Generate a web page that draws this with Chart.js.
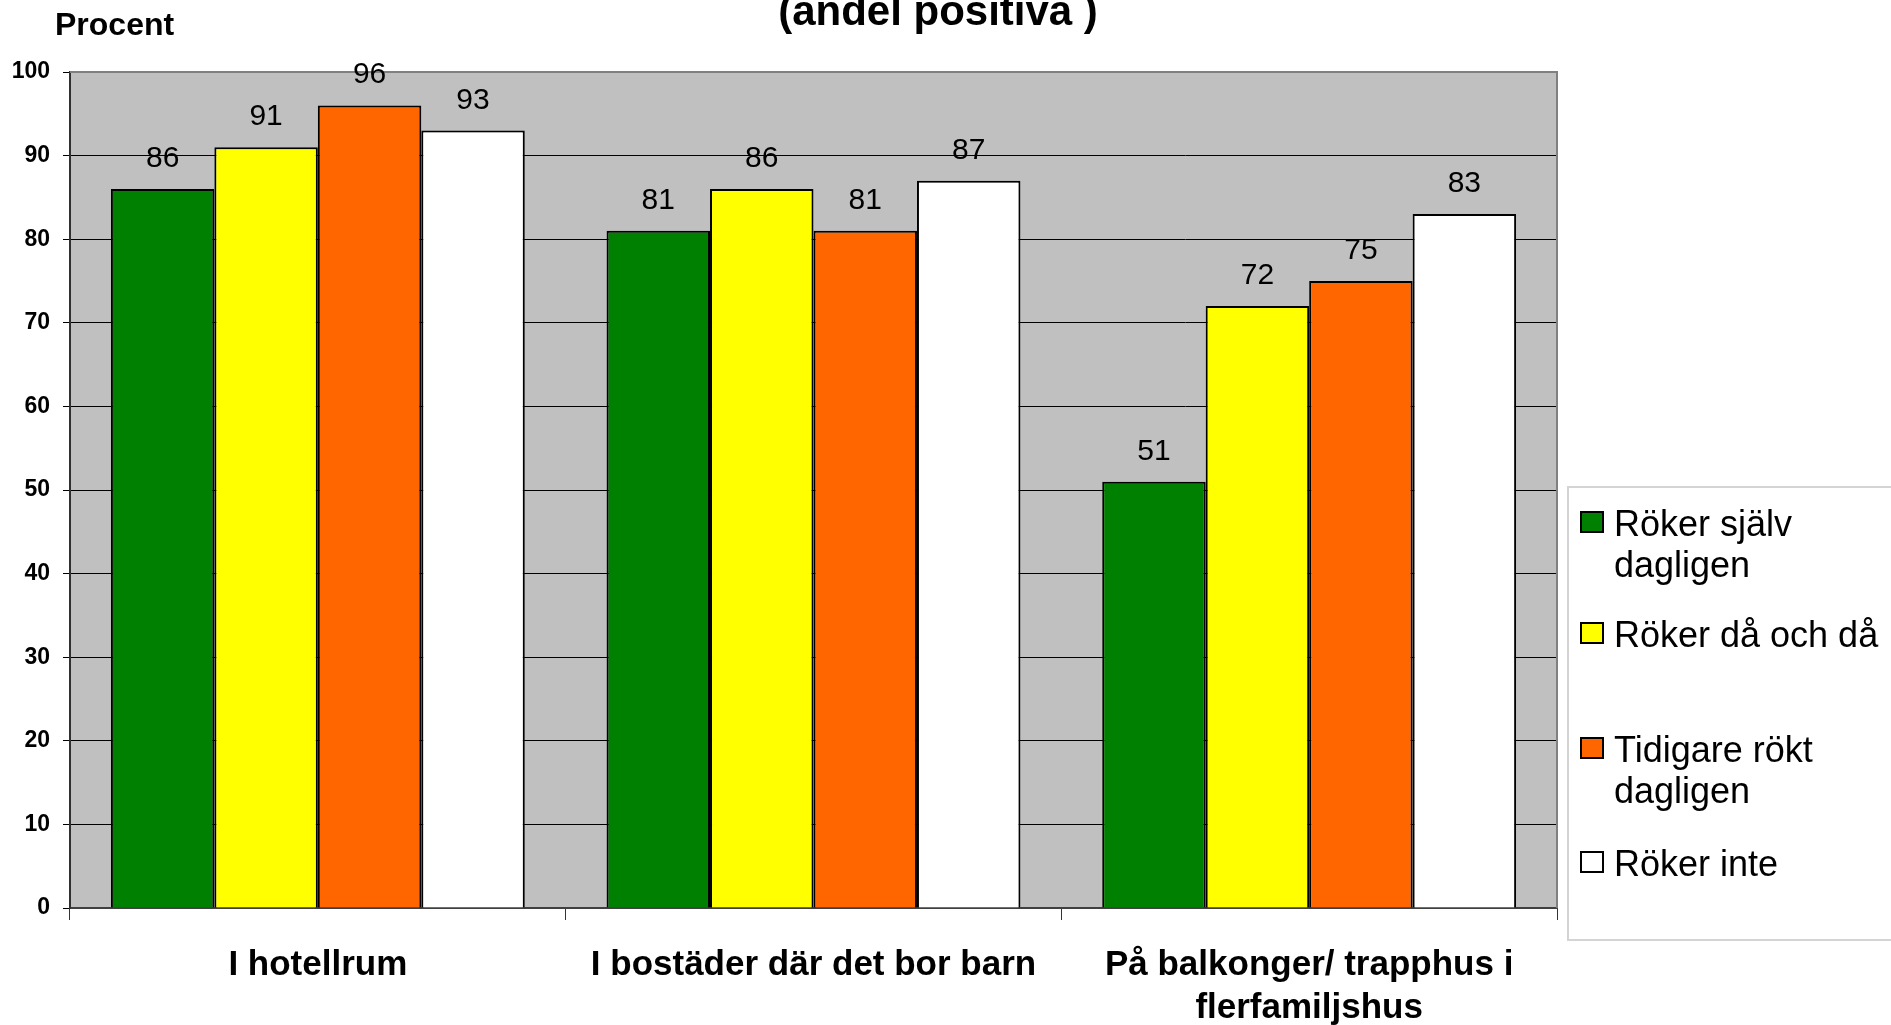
<!DOCTYPE html>
<html>
<head>
<meta charset="utf-8">
<script src="https://cdn.jsdelivr.net/npm/chart.js@4.4.0/dist/chart.umd.min.js"></script>
<style>
  body { margin: 0; background: #fff; overflow: hidden; font-family: "Liberation Sans", Arial, sans-serif; }
  #wrap { position: relative; width: 1891px; height: 1025px; }
  #legend { position: absolute; left: 1567px; top: 486px; width: 340px; height: 451px; border: 2px solid #d4d4d4; }
  .item { position: absolute; left: 0; }
  .sw { position: absolute; left: 11px; width: 20px; height: 18px; border: 2px solid #000; }
  .txt { position: absolute; left: 45px; width: 290px; font-size: 36px; line-height: 41px; color: #000; }
</style>
</head>
<body>
<div id="wrap">
  <canvas id="chart" width="1891" height="1025"></canvas>
  <div id="legend"></div>
</div>
<script>
const categories = ["I hotellrum", "I bostäder där det bor barn", ["På balkonger/ trapphus i", "flerfamiljshus"]];
const seriesNames = ["Röker själv dagligen", "Röker då och då", "Tidigare rökt dagligen", "Röker inte"];
const seriesColors = ["#008000", "#FFFF00", "#FF6600", "#FFFFFF"];
const rokerSjalv = [86, 81, 51];
const rokerDaOchDa = [91, 86, 72];
const tidigareRokt = [96, 81, 75];
const rokerInte = [93, 87, 83];
const yTicks = [0, 10, 20, 30, 40, 50, 60, 70, 80, 90, 100];
const titleText = "(andel positiva )";
const yAxisLabel = "Procent";

const values = [rokerSjalv, rokerDaOchDa, tidigareRokt, rokerInte];

// background, borders, labels
const decor = {
  id: "decor",
  beforeDraw(chart) {
    const { ctx, chartArea: a } = chart;
    ctx.save();
    ctx.fillStyle = "#C0C0C0";
    ctx.fillRect(a.left, a.top, a.right - a.left, a.bottom - a.top);
    ctx.restore();
  },
  afterDatasetsDraw(chart) {
    const { ctx, chartArea: a } = chart;
    ctx.save();
    // plot border top / right
    ctx.strokeStyle = "#808080";
    ctx.lineWidth = 2;
    ctx.beginPath();
    ctx.moveTo(a.left, a.top);
    ctx.lineTo(a.right, a.top);
    ctx.lineTo(a.right, a.bottom);
    ctx.stroke();
    // value labels
    ctx.fillStyle = "#000";
    ctx.font = '30px "Liberation Sans", Arial, sans-serif';
    ctx.textAlign = "center";
    ctx.textBaseline = "alphabetic";
    chart.data.datasets.forEach((ds, i) => {
      chart.getDatasetMeta(i).data.forEach((bar, j) => {
        ctx.fillText(String(ds.data[j]), bar.x, bar.y - 22);
      });
    });
    // title (top part cut off)
    ctx.font = 'bold 42px "Liberation Sans", Arial, sans-serif';
    ctx.fillText(titleText, 938, 25);
    ctx.textAlign = "left";
    ctx.font = 'bold 32px "Liberation Sans", Arial, sans-serif';
    ctx.fillText(yAxisLabel, 55, 35);
    ctx.restore();
  }
};

new Chart(document.getElementById("chart"), {
  type: "bar",
  data: {
    labels: categories,
    datasets: seriesNames.map((n, i) => ({
      label: n,
      data: values[i],
      backgroundColor: seriesColors[i],
      borderColor: "#000",
      borderWidth: 2,
      borderSkipped: "bottom",
      categoryPercentage: 0.835,
      barPercentage: 1.0
    }))
  },
  options: {
    responsive: false,
    animation: false,
    layout: { padding: { left: 0, right: 334, top: 72, bottom: 0 } },
    plugins: { legend: { display: false }, title: { display: false }, tooltip: { enabled: false } },
    scales: {
      x: {
        grid: { display: true, offset: true, drawOnChartArea: false, drawTicks: true, tickLength: 12, tickColor: "#333", tickWidth: 1 },
        border: { display: true, color: "#404040", width: 2 },
        ticks: {
          color: "#000",
          padding: 24,
          maxRotation: 0,
          autoSkip: false,
          font: { family: '"Liberation Sans", Arial, sans-serif', size: 35, weight: "bold", lineHeight: 1.23 }
        },
        afterFit(s) { s.height = 117; }
      },
      y: {
        min: 0,
        max: 100,
        afterBuildTicks(s) { s.ticks = yTicks.map(v => ({ value: v })); },
        grid: { color: "#000", lineWidth: 1, drawTicks: true, tickLength: 7, tickColor: "#000" },
        border: { display: true, color: "#303030", width: 2 },
        ticks: {
          color: "#000",
          padding: 13,
          font: { family: '"Liberation Sans", Arial, sans-serif', size: 23, weight: "bold" }
        },
        afterFit(s) { s.width = 70; }
      }
    }
  },
  plugins: [decor]
});

// legend
const leg = document.getElementById("legend");
const itemTops = [23, 134, 249, 363];
seriesNames.forEach((n, i) => {
  const it = document.createElement("div");
  it.className = "item";
  it.style.top = itemTops[i] + "px";
  it.innerHTML = `<div class="sw" style="top:0;background:${seriesColors[i]}"></div><div class="txt" style="top:-8px">${n}</div>`;
  leg.appendChild(it);
});
</script>
</body>
</html>
